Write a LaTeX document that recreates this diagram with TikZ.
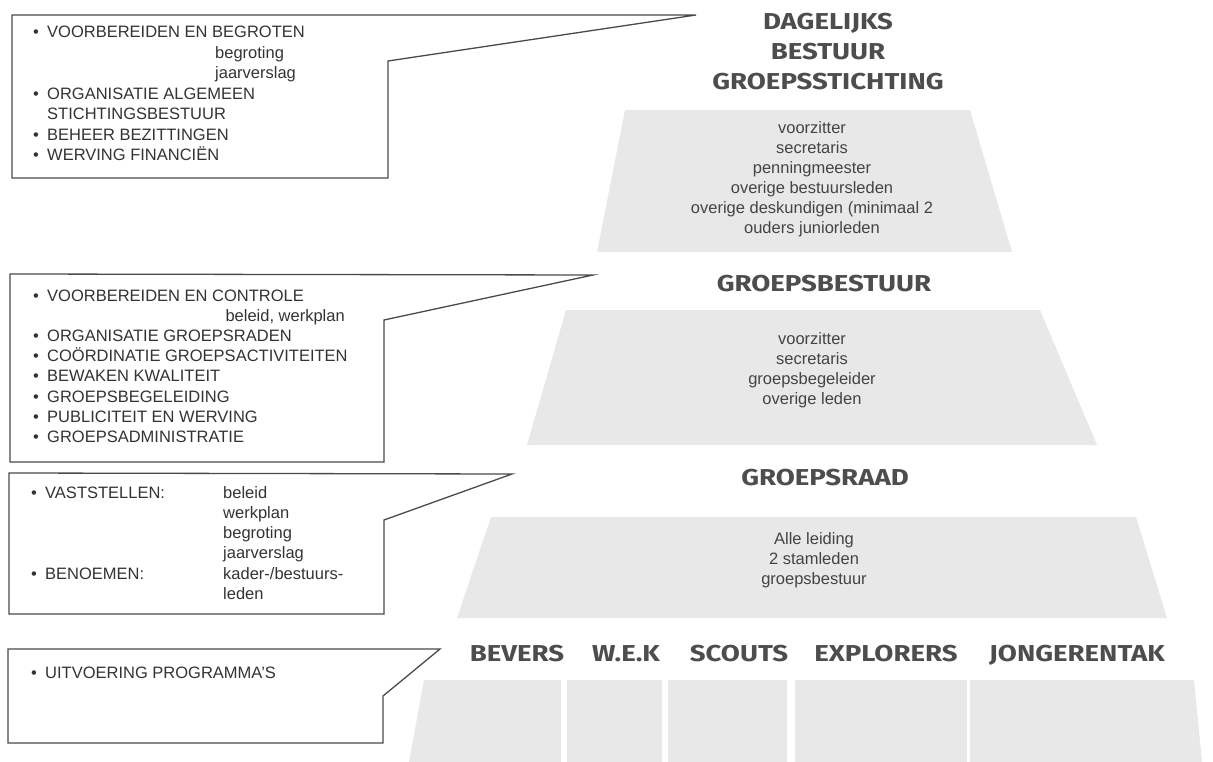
\documentclass[tikz,border=0pt]{standalone}
\usepackage{fontspec}
\setmainfont{Liberation Sans}
\newfontfamily\titlefont[FakeStretch=1.2]{Fira Sans}
\definecolor{ink}{HTML}{333333}
\definecolor{ptext}{HTML}{444444}
\definecolor{ttext}{HTML}{4D4D4D}
\definecolor{edge}{HTML}{4A4A4A}
\begin{document}
\begin{tikzpicture}[x=1pt,y=-1pt,
  ct/.style={anchor=base west, inner sep=0pt, text=ink, font=\fontsize{16.5}{20}\selectfont},
  pt/.style={anchor=base, inner sep=0pt, text=ptext, font=\fontsize{16.5}{20}\selectfont},
  ttl/.style={anchor=base, inner sep=0pt, text=ttext, font=\titlefont\bfseries\fontsize{23}{26}\selectfont},
  callout/.style={draw=edge, line width=1.3pt, line join=miter},
  level/.style={fill=gray!18, draw=none}]
\useasboundingbox (0,0) rectangle (1213,762);
\newcommand{\bul}{\makebox[14pt][l]{•}}

% pyramid levels
\path[level] (625,110) -- (970,110) -- (1012,252) -- (597,252) -- cycle;
\path[level] (566,310) -- (1040,310) -- (1097,445) -- (527,445) -- cycle;
\path[level] (491,517) -- (1136,517) -- (1167,618) -- (457,618) -- cycle;
\path[level] (424,680) -- (561,680) -- (561,762) -- (409,762) -- cycle;
\path[level] (567,680) -- (662,680) -- (662,762) -- (567,762) -- cycle;
\path[level] (668,680) -- (787,680) -- (787,762) -- (668,762) -- cycle;
\path[level] (795,680) -- (967,680) -- (967,762) -- (795,762) -- cycle;
\path[level] (970,680) -- (1194,680) -- (1202,762) -- (970,762) -- cycle;

% titles
\node[ttl] (t1) at (828,30) {DAGELIJKS};
\node[ttl] (t2) at (828,60) {BESTUUR};
\node[ttl] (t3) at (828,90) {GROEPSSTICHTING};
\node[ttl] (t4) at (824,291) {GROEPSBESTUUR};
\node[ttl] (t5) at (825,485) {GROEPSRAAD};
\node[ttl] (r1) at (517,661) {BEVERS};
\node[ttl] (r2) at (626,661) {W.E.K};
\node[ttl] (r3) at (739,661) {SCOUTS};
\node[ttl] (r4) at (886,661) {EXPLORERS};
\node[ttl] (r5) at (1077,661) {JONGERENTAK};

% level texts
\foreach \t [count=\i] in {voorzitter,secretaris,penningmeester,overige bestuursleden,overige deskundigen (minimaal 2,ouders juniorleden}
  \node[pt] (p1-\i) at (812,134+20*\i-20) {\t};
\foreach \t [count=\i] in {voorzitter,secretaris,groepsbegeleider,overige leden}
  \node[pt] (p2-\i) at (812,344+20*\i-20) {\t};
\foreach \t [count=\i] in {Alle leiding,2 stamleden,groepsbestuur}
  \node[pt] (p3-\i) at (814,544+20*\i-20) {\t};

% callouts
\draw[callout] (12,15) -- (696,15) -- (388,61) -- (388,178) -- (12,178) -- cycle;
\draw[callout] (10,274) -- (593,275) -- (384,320) -- (384,462) -- (10,462) -- cycle;
\draw[callout] (9,473) -- (512,474) -- (384,520) -- (384,614) -- (9,614) -- cycle;
\draw[callout] (8,649) -- (440,649) -- (383,696) -- (383,743) -- (8,743) -- cycle;

% callout 1 text
\node[ct] (a1) at (33,38) {\bul VOORBEREIDEN EN BEGROTEN};
\node[ct] (a2) at (215,58.5) {begroting};
\node[ct] (a3) at (215,79) {jaarverslag};
\node[ct] (a4) at (33,99.5) {\bul ORGANISATIE ALGEMEEN};
\node[ct] (a5) at (47,120) {STICHTINGSBESTUUR};
\node[ct] (a6) at (33,140.5) {\bul BEHEER BEZITTINGEN};
\node[ct] (a7) at (33,161) {\bul WERVING FINANCIËN};

% callout 2 text
\node[ct] (b1) at (33,301) {\bul VOORBEREIDEN EN CONTROLE};
\node[ct, anchor=base east] (b2) at (345,321) {beleid, werkplan};
\node[ct] (b3) at (33,341) {\bul ORGANISATIE GROEPSRADEN};
\node[ct] (b4) at (33,361) {\bul COÖRDINATIE GROEPSACTIVITEITEN};
\node[ct] (b5) at (33,381) {\bul BEWAKEN KWALITEIT};
\node[ct] (b6) at (33,402) {\bul GROEPSBEGELEIDING};
\node[ct] (b7) at (33,422) {\bul PUBLICITEIT EN WERVING};
\node[ct] (b8) at (33,442) {\bul GROEPSADMINISTRATIE};

% callout 3 text
\node[ct] (c1) at (31,498) {\bul VASTSTELLEN:};
\node[ct] (c2) at (223,498) {beleid};
\node[ct] (c3) at (223,518) {werkplan};
\node[ct] (c4) at (223,538) {begroting};
\node[ct] (c5) at (223,558) {jaarverslag};
\node[ct] (c6) at (31,579) {\bul BENOEMEN:};
\node[ct] (c7) at (223,579) {kader-/bestuurs-};
\node[ct] (c8) at (223,599) {leden};

% callout 4 text
\node[ct] (d1) at (31,678) {\bul UITVOERING PROGRAMMA'S};
\end{tikzpicture}
\end{document}
